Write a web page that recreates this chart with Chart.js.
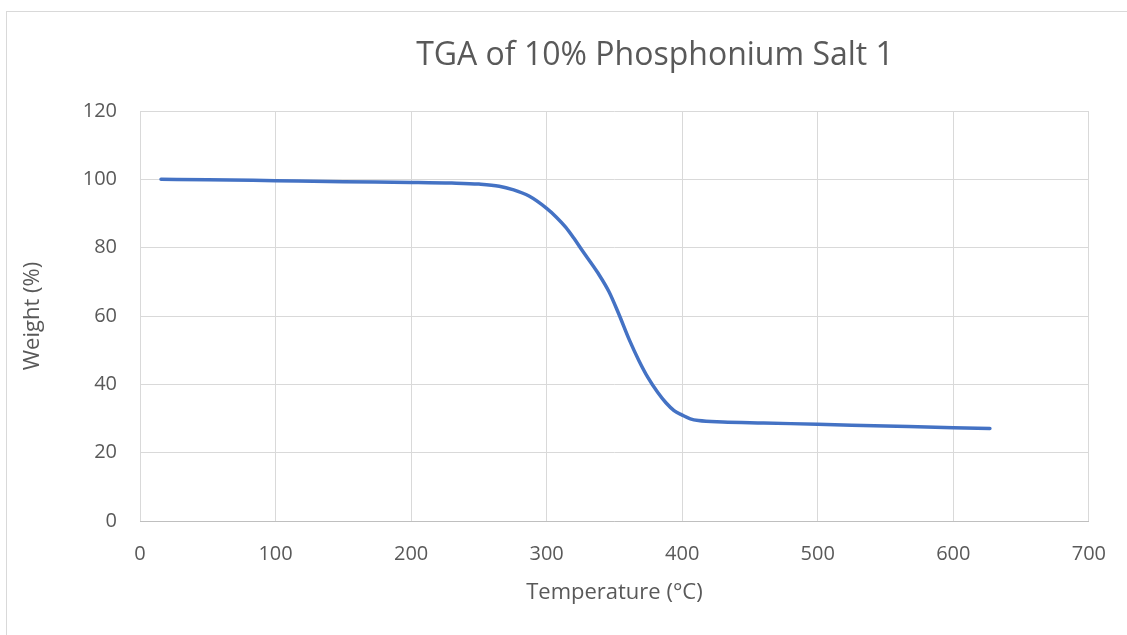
<!DOCTYPE html>
<html>
<head>
<meta charset="utf-8">
<script src="https://cdn.jsdelivr.net/npm/chart.js@4.4.1/dist/chart.umd.min.js"></script>
<style>
  html, body { margin: 0; padding: 0; background: #fff; }
  #wrap { position: relative; width: 1127px; height: 635px; }
  #frame { position: absolute; left: 6px; top: 11px; right: -2px; bottom: -2px; border: 1px solid #d9d9d9; }
  canvas { position: absolute; left: 0; top: 0; }
</style>
</head>
<body>
<div id="wrap">
  <div id="frame"></div>
  <canvas id="tga" width="1127" height="635"></canvas>
</div>
<script>
// temperature (°C) and remaining weight (%)
const temperature = [15.5, 50, 100, 150, 200, 230, 250, 265, 275, 287, 300, 307, 314, 320, 326, 338, 346, 353, 361, 368, 375, 382, 388, 394, 400, 406, 412, 430, 460, 500, 550, 600, 627];
const weight = [100.0, 99.9, 99.6, 99.3, 99.1, 98.9, 98.6, 98.0, 97.0, 95.1, 91.5, 89.0, 86.0, 82.8, 79.3, 72.5, 67.1, 60.8, 53.0, 47.0, 41.8, 37.6, 34.6, 32.3, 31.0, 29.9, 29.4, 29.0, 28.7, 28.3, 27.8, 27.3, 27.1];
const xTicks = [0, 100, 200, 300, 400, 500, 600, 700];
const yTicks = [0, 20, 40, 60, 80, 100, 120];

const textColor = "#595959";
const gridColor = "#d9d9d9";
const fontFamily = "'Open Sans', sans-serif";

// title drawn straight onto the canvas above the plot area
const titlePlugin = {
    id: "topTitle",
    afterDraw(chart) {
        const ctx = chart.ctx;
        ctx.save();
        ctx.fillStyle = textColor;
        ctx.font = "32px " + fontFamily;
        ctx.textAlign = "center";
        ctx.textBaseline = "middle";
        ctx.fillText("TGA of 10% Phosphonium Salt 1", 655, 56);
        ctx.restore();
    }
};

const points = temperature.map((t, i) => ({ x: t, y: weight[i] }));

new Chart(document.getElementById("tga"), {
    type: "scatter",
    data: {
        datasets: [{
            data: points,
            showLine: true,
            borderColor: "#4472c4",
            borderWidth: 3.5,
            pointRadius: 0,
            cubicInterpolationMode: "monotone",
            borderCapStyle: "round"
        }]
    },
    options: {
        responsive: false,
        animation: false,
        layout: { padding: { left: 0, top: 111, right: 34, bottom: 20 } },
        plugins: { legend: { display: false }, tooltip: { enabled: false } },
        scales: {
            x: {
                type: "linear",
                min: 0,
                max: 700,
                afterBuildTicks: axis => { axis.ticks = xTicks.map(v => ({ value: v })); },
                afterFit: axis => { axis.height = 94; },
                grid: { color: gridColor, drawTicks: false },
                border: { color: "#bfbfbf", width: 1 },
                ticks: { color: textColor, font: { family: fontFamily, size: 20 }, padding: 21 },
                title: { display: true, text: "Temperature (°C)", color: textColor, font: { family: fontFamily, size: 22 }, padding: { bottom: 9 } }
            },
            y: {
                min: 0,
                max: 120,
                afterBuildTicks: axis => { axis.ticks = yTicks.map(v => ({ value: v })); },
                afterFit: axis => { axis.width = 140; },
                grid: { color: gridColor, drawTicks: false },
                border: { display: false },
                ticks: { color: textColor, font: { family: fontFamily, size: 20 }, padding: 23 },
                title: { display: true, text: "Weight (%)", color: textColor, font: { family: fontFamily, size: 22 }, padding: { top: 20 } }
            }
        }
    },
    plugins: [titlePlugin]
});
</script>
</body>
</html>
